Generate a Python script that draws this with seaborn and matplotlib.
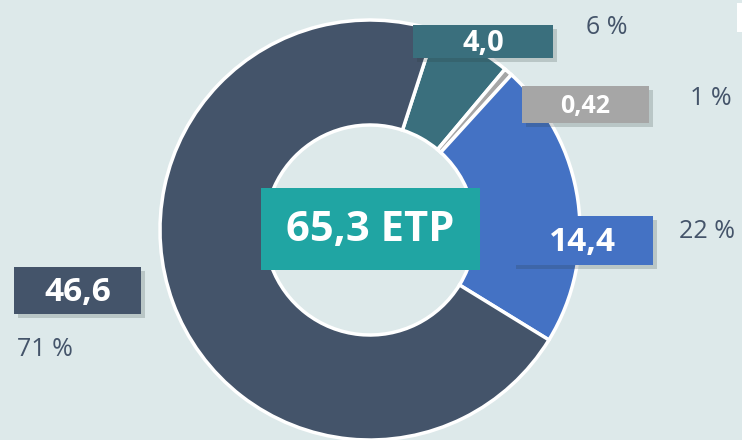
import matplotlib
matplotlib.use("Agg")
import matplotlib.pyplot as plt
import matplotlib.patheffects as pe
from matplotlib.patches import Rectangle
import seaborn as sns

# data
values = [4.0, 0.42, 14.4, 46.6]
value_labels = ["4,0", "0,42", "14,4", "46,6"]
pct_labels = ["6 %", "1 %", "22 %", "71 %"]
total_label = "65,3 ETP"
colors = ["#3a6f7d", "#a6a6a6", "#4472c4", "#44546a"]

bg = "#dde9ea"
W, H = 742, 440

sns.set_style("white")
plt.rcParams['font.family'] = ['Open Sans', 'DejaVu Sans']

fig = plt.figure(figsize=(7.42, 4.4), dpi=100, facecolor=bg)
ax = fig.add_axes([0, 0, 1, 1])
ax.set_facecolor(bg)

ax.pie(values, center=(370, H - 230), radius=210, startangle=72,
       counterclock=False, colors=colors,
       wedgeprops=dict(width=105, edgecolor="white", linewidth=2.5))
ax.set_xlim(0, W)
ax.set_ylim(0, H)
ax.set_aspect("equal")
ax.axis("off")

# label boxes (x0, y0, x1, y1 in pixels from top-left)
boxes = [(413, 25, 553, 58), (522, 86, 649, 123), (512, 216, 653, 265), (14, 267, 141, 314)]
sizes = [21, 18, 24, 24]
pct_pos = [(607, 27), (711, 98), (707, 231), (45, 350)]
shadow = [pe.withSimplePatchShadow(offset=(3, -3), shadow_rgbFace="#2a3a3a", alpha=0.2)]

for (x0, y0, x1, y1), c, lab, fs, pct, (px, py) in zip(boxes, colors, value_labels, sizes, pct_labels, pct_pos):
    r = Rectangle((x0, H - y1), x1 - x0, y1 - y0, facecolor=c, edgecolor="none",
                  path_effects=shadow, zorder=3)
    ax.add_patch(r)
    ax.text((x0 + x1) / 2, H - (y0 + y1) / 2 - 2, lab, color="white", fontsize=fs,
            fontweight="bold", ha="center", va="center", zorder=4)
    ax.text(px, H - py, pct, color="#44546a", fontsize=18, ha="center", va="center")

# centre total
ax.add_patch(Rectangle((261, H - 270), 219, 82, facecolor="#20a5a3", edgecolor="none", zorder=3))
ax.text(370.5, H - 230, total_label, color="white", fontsize=30, fontweight="bold",
        ha="center", va="center", zorder=4)

# small white patch at top-right edge
ax.add_patch(Rectangle((737, H - 32), 6, 29, facecolor="white", edgecolor="none"))

fig.savefig("out.png", dpi=100, facecolor=bg)
